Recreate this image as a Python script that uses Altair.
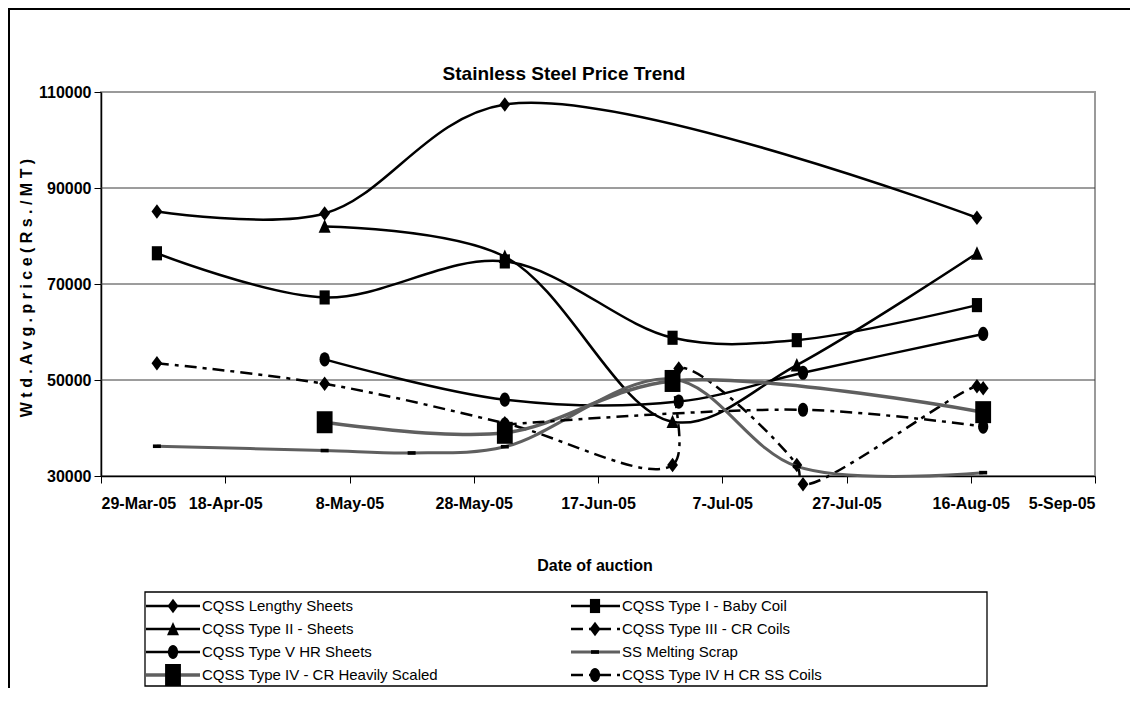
import math
import altair as alt
import pandas as pd

# ---------------- data ----------------
SERIES = [
    "CQSS Lengthy Sheets",
    "CQSS Type I - Baby Coil",
    "CQSS Type II - Sheets",
    "CQSS Type III - CR Coils",
    "CQSS Type V HR Sheets",
    "SS Melting Scrap",
    "CQSS Type IV - CR Heavily Scaled",
    "CQSS Type IV H CR SS Coils",
]

lengthy_dates = ["2005-04-07", "2005-05-04", "2005-06-02", "2005-08-17"]
lengthy_vals = [85100, 84700, 107400, 83800]

type1_dates = ["2005-04-07", "2005-05-04", "2005-06-02", "2005-06-29", "2005-07-19", "2005-08-17"]
type1_vals = [76400, 67200, 74700, 58800, 58300, 65600]

type2_dates = ["2005-05-04", "2005-06-02", "2005-06-29", "2005-07-19", "2005-08-17"]
type2_vals = [82000, 75700, 41300, 53100, 76400]

type3_dates = ["2005-04-07", "2005-05-04", "2005-06-02", "2005-06-29", "2005-06-30",
               "2005-07-19", "2005-07-20", "2005-08-17", "2005-08-18"]
type3_vals = [53500, 49200, 41000, 32300, 52400, 32300, 28300, 48700, 48300]

type5_dates = ["2005-05-04", "2005-06-02", "2005-06-30", "2005-07-20", "2005-08-18"]
type5_vals = [54300, 45900, 45500, 51500, 59600]

scrap_dates = ["2005-04-07", "2005-05-04", "2005-05-18", "2005-06-02", "2005-06-29", "2005-07-19", "2005-08-18"]
scrap_vals = [36200, 35300, 34800, 36100, 50200, 32000, 30700]

heavy_dates = ["2005-05-04", "2005-06-02", "2005-06-29", "2005-08-18"]
heavy_vals = [41200, 39000, 49800, 43300]

type4h_dates = ["2005-06-02", "2005-07-20", "2005-08-18"]
type4h_vals = [40700, 43800, 40300]

y_ticks = [30000, 50000, 70000, 90000, 110000]
grid_values = [50000, 70000, 90000]
x_tick_dates = [(2005, 3, 29), (2005, 4, 18), (2005, 5, 8), (2005, 5, 28), (2005, 6, 17),
                (2005, 7, 7), (2005, 7, 27), (2005, 8, 16), (2005, 9, 5)]

series_data = [
    (lengthy_dates, lengthy_vals),
    (type1_dates, type1_vals),
    (type2_dates, type2_vals),
    (type3_dates, type3_vals),
    (type5_dates, type5_vals),
    (scrap_dates, scrap_vals),
    (heavy_dates, heavy_vals),
    (type4h_dates, type4h_vals),
]

rows = []
for name, (ds, vs) in zip(SERIES, series_data):
    for d, v in zip(ds, vs):
        rows.append({"s": name, "d": d, "v": v})
df = pd.DataFrame(rows)

# ---------------- styles ----------------
def ellipse_path(rx=0.72, ry=1.0, n=24):
    pts = []
    for k in range(n):
        a = 2 * math.pi * k / n
        pts.append(f"{rx * math.cos(a):.3f},{ry * math.sin(a):.3f}")
    return "M" + "L".join(pts) + "Z"

DIAMOND = "M0,-1L0.75,0L0,1L-0.75,0Z"
SQUARE = "M-0.72,-1L0.72,-1L0.72,1L-0.72,1Z"
TRIANGLE = "M0,-1L0.85,0.9L-0.85,0.9Z"
ELLIPSE = ellipse_path()
DASH = "M-1,-0.45L1,-0.45L1,0.45L-1,0.45Z"

DASHDOT = [12, 6, 4, 6]
styles = [
    dict(color="black", width=2.5, dash=None, shape=DIAMOND, size=210),
    dict(color="black", width=2.5, dash=None, shape=SQUARE, size=200),
    dict(color="black", width=2.5, dash=None, shape=TRIANGLE, size=200),
    dict(color="black", width=2.5, dash=DASHDOT, shape=DIAMOND, size=210),
    dict(color="black", width=2.5, dash=None, shape=ELLIPSE, size=200),
    dict(color="#5f5f5f", width=3, dash=None, shape=DASH, size=64),
    dict(color="#5f5f5f", width=3.5, dash=None, shape=SQUARE, size=484),
    dict(color="black", width=2.5, dash=DASHDOT, shape=ELLIPSE, size=200),
]

FONT = "Liberation Sans"

# ---------------- scales ----------------
def dt(y, m, d):
    return alt.DateTime(year=y, month=m, date=d, utc=True)

xscale = alt.Scale(type="utc", domain=[dt(2005, 3, 29), dt(2005, 9, 5)], nice=False)
yscale = alt.Scale(domain=[30000, 110000], nice=False, zero=False)

xaxis = alt.Axis(values=[dt(*t) for t in x_tick_dates], format="%-d-%b-%y",
                 labelPadding=12, tickSize=7, grid=False, labelOverlap=False)
yaxis = alt.Axis(values=y_ticks, format="d", labelPadding=3, tickSize=7, grid=False)

X = alt.X("d:T", scale=xscale, title=None, axis=xaxis)
Y = alt.Y("v:Q", scale=yscale, title=None, axis=yaxis)

one = pd.DataFrame({"k": [0]})

layers = []

# outer chart frame
layers.append(alt.Chart(one).mark_rect(fillOpacity=0, stroke="black", strokeWidth=2).encode(
    x=alt.value(-92), x2=alt.value(2000), y=alt.value(-83), y2=alt.value(2000)))

# gridlines
layers.append(alt.Chart(pd.DataFrame({"g": grid_values})).mark_rule(color="#3a3a3a", strokeWidth=1).encode(
    y=alt.Y("g:Q", scale=yscale, title=None, axis=yaxis)))

# series
for name, st in zip(SERIES, styles):
    base = alt.Chart(df).transform_filter(alt.datum.s == name)
    lk = dict(interpolate="catmull-rom", color=st["color"], strokeWidth=st["width"])
    if st["dash"]:
        lk["strokeDash"] = st["dash"]
    layers.append(base.mark_line(**lk).encode(x=X, y=Y))
    layers.append(base.mark_point(shape=st["shape"], size=st["size"], filled=True,
                                  color="black", opacity=1, strokeWidth=0).encode(x=X, y=Y))

# titles
layers.append(alt.Chart(one).mark_text(text="Stainless Steel Price Trend", font=FONT, fontSize=19,
                                       fontWeight="bold", align="center", baseline="middle", color="black")
              .encode(x=alt.value(463), y=alt.value(-18)))
layers.append(alt.Chart(one).mark_text(text="W t d . A v g . p r i c e ( R s . / M T )", font=FONT,
                                       fontSize=16, fontWeight="bold", align="center", baseline="middle",
                                       angle=270, color="black")
              .encode(x=alt.value(-74), y=alt.value(196)))
layers.append(alt.Chart(one).mark_text(text="Date of auction", font=FONT, fontSize=16,
                                       fontWeight="bold", align="center", baseline="middle", color="black")
              .encode(x=alt.value(494), y=alt.value(474)))

# legend
layers.append(alt.Chart(one).mark_rect(fillOpacity=0, stroke="black", strokeWidth=1.3).encode(
    x=alt.value(44), x2=alt.value(886), y=alt.value(500), y2=alt.value(594)))
col_line = [(45, 99), (470, 519)]
col_marker = [72, 494]
col_text = [101, 521]
for i, (name, st) in enumerate(zip(SERIES, styles)):
    r, c = i // 2, i % 2
    yy = 514 + 23 * r
    rk = dict(color=st["color"], strokeWidth=st["width"])
    if st["dash"]:
        rk["strokeDash"] = st["dash"]
    layers.append(alt.Chart(one).mark_rule(**rk).encode(
        x=alt.value(col_line[c][0]), x2=alt.value(col_line[c][1]), y=alt.value(yy)))
    layers.append(alt.Chart(one).mark_point(shape=st["shape"], size=st["size"], filled=True,
                                            color="black", opacity=1, strokeWidth=0).encode(
        x=alt.value(col_marker[c]), y=alt.value(yy)))
    layers.append(alt.Chart(one).mark_text(text=name, font=FONT, fontSize=15, align="left",
                                           baseline="middle", color="black").encode(
        x=alt.value(col_text[c]), y=alt.value(yy)))

chart = alt.layer(*layers).properties(
    width=994, height=384,
    autosize=alt.AutoSizeParams(type="none"),
    padding={"left": 93, "top": 84, "right": 35, "bottom": 212},
    background="white",
).configure_view(
    stroke="#9a9a9a", strokeWidth=2
).configure_axis(
    labelFont=FONT, labelFontWeight="bold", labelFontSize=16, labelColor="black",
    domainColor="black", domainWidth=1.5, tickColor="black", tickWidth=1,
)

chart.save("out.html", embed_options={"renderer": "svg", "actions": False})
